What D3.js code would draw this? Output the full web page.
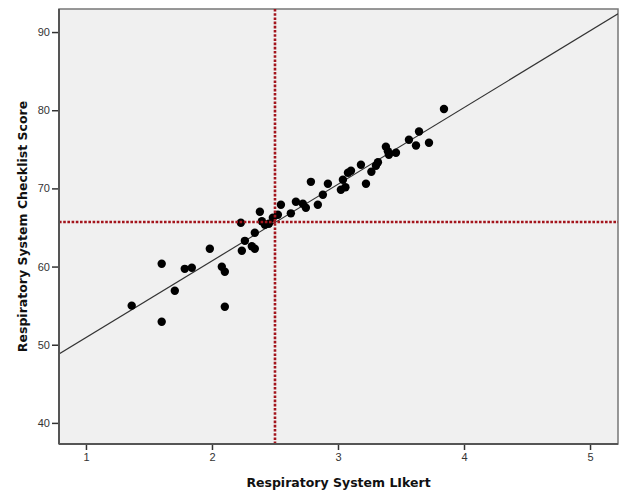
<!DOCTYPE html>
<html>
<head>
<meta charset="utf-8">
<script src="https://cdn.jsdelivr.net/npm/d3@7"></script>
<style>
	body { margin: 0; background: #fff; }
	.tick text { font-family: "Liberation Sans", Arial, sans-serif; font-size: 11px; fill: #333; }
	.title { font-family: "DejaVu Sans", Verdana, sans-serif; font-weight: bold; font-size: 12.5px; fill: #111; }
</style>
</head>
<body>
<div id="chart"></div>
<script>

// likert score (x) and checklist score (y) for each respondent
var likert = [1.363, 1.601, 1.601, 1.705, 1.784, 1.840, 1.983, 2.078, 2.102, 2.102,
	2.237, 2.229, 2.261, 2.316, 2.340, 2.340, 2.380, 2.396, 2.420, 2.451,
	2.483, 2.523, 2.547, 2.626, 2.666, 2.721, 2.745, 2.840, 2.785, 2.880,
	2.920, 3.023, 3.039, 3.059, 3.079, 3.103, 3.182, 3.222, 3.265, 3.301,
	3.317, 3.380, 3.396, 3.404, 3.460, 3.563, 3.619, 3.643, 3.722, 3.841];
var checklist = [55.0, 60.35, 52.93, 56.9, 59.71, 59.84, 62.27, 59.97, 59.33, 54.85,
	62.02, 65.6, 63.29, 62.59, 62.27, 64.32, 67.01, 65.79, 65.34, 65.47,
	66.24, 66.62, 67.9, 66.81, 68.29, 68.03, 67.52, 67.9, 70.84, 69.18,
	70.59, 69.82, 71.1, 70.14, 72.0, 72.25, 73.02, 70.59, 72.12, 72.89,
	73.34, 75.32, 74.75, 74.3, 74.56, 76.22, 75.49, 77.28, 75.83, 80.15];

var xTicks = [1, 2, 3, 4, 5];
var yTicks = [40, 50, 60, 70, 80, 90];

// reference lines (means) and fit line
var meanX = 2.5, meanY = 65.7;
var fit = { intercept: 41.1, slope: 9.81 };

var xTitle = "Respiratory System LIkert",
	yTitle = "Respiratory System Checklist Score";

var width = 623, height = 492;
var margin = { top: 9, right: 5, bottom: 48, left: 59 };

var svg = d3.select("#chart").append("svg")
	.attr("width", width)
	.attr("height", height);

var xScale = d3.scaleLinear()
	.domain([0.786, 5.222])
	.range([margin.left, width - margin.right]);

var yScale = d3.scaleLinear()
	.domain([37.3, 92.95])
	.range([height - margin.bottom, margin.top]);

var x0 = xScale.range()[0], x1 = xScale.range()[1],
	y0 = yScale.range()[0], y1 = yScale.range()[1];

// plot area
svg.append("rect")
	.attr("x", x0).attr("y", y1)
	.attr("width", x1 - x0).attr("height", y0 - y1)
	.style("fill", "#f0f0f0")
	.style("stroke", "#777")
	.style("stroke-width", 1.5);

var clip = svg.append("clipPath").attr("id", "plotclip")
	.append("rect")
	.attr("x", x0).attr("y", y1)
	.attr("width", x1 - x0).attr("height", y0 - y1);

var g = svg.append("g").attr("clip-path", "url(#plotclip)");

// fit line
var xd = xScale.domain();
g.append("line")
	.attr("x1", xScale(xd[0]))
	.attr("y1", yScale(fit.intercept + fit.slope * xd[0]))
	.attr("x2", xScale(xd[1]))
	.attr("y2", yScale(fit.intercept + fit.slope * xd[1]))
	.style("stroke", "#333")
	.style("stroke-width", 1.2);

// points
g.selectAll("circle.pt")
	.data(likert).enter()
	.append("circle")
		.attr("class", "pt")
		.attr("cx", function(d){ return xScale(d) })
		.attr("cy", function(d, i){ return yScale(checklist[i]) })
		.attr("r", 4.2)
		.style("fill", "#000");

// mean reference lines (dotted red)
g.append("line")
	.attr("x1", xScale(meanX)).attr("x2", xScale(meanX))
	.attr("y1", y1).attr("y2", y0)
	.style("stroke", "#a3141c")
	.style("stroke-width", 2.6)
	.style("stroke-dasharray", "2.6,1.6");

g.append("line")
	.attr("x1", x0).attr("x2", x1)
	.attr("y1", yScale(meanY)).attr("y2", yScale(meanY))
	.style("stroke", "#a3141c")
	.style("stroke-width", 2.6)
	.style("stroke-dasharray", "2.6,1.6");

// axes
var xAxis = d3.axisBottom(xScale).tickValues(xTicks).tickSize(6).tickPadding(3).tickFormat(d3.format("d"));
var yAxis = d3.axisLeft(yScale).tickValues(yTicks).tickSize(7).tickPadding(2).tickFormat(d3.format("d"));

var gx = svg.append("g")
	.attr("class", "x axis")
	.attr("transform", "translate(0," + y0 + ")")
	.call(xAxis);
var gy = svg.append("g")
	.attr("class", "y axis")
	.attr("transform", "translate(" + x0 + ",0)")
	.call(yAxis);

svg.selectAll(".axis .domain").remove();
svg.selectAll(".axis .tick line").style("stroke", "#333").style("stroke-width", 1.5);

// frame edges on the axis sides are darker
svg.append("line").attr("x1", x0).attr("x2", x0).attr("y1", y1).attr("y2", y0)
	.style("stroke", "#555").style("stroke-width", 2);
svg.append("line").attr("x1", x0).attr("x2", x1).attr("y1", y0).attr("y2", y0)
	.style("stroke", "#555").style("stroke-width", 2);

// axis titles
svg.append("text")
	.attr("class", "title")
	.attr("x", (x0 + x1) / 2)
	.attr("y", 487)
	.style("text-anchor", "middle")
	.text(xTitle);

svg.append("text")
	.attr("class", "title")
	.attr("transform", "translate(27," + ((y0 + y1) / 2) + ") rotate(-90)")
	.style("text-anchor", "middle")
	.text(yTitle);

</script>
</body>
</html>
